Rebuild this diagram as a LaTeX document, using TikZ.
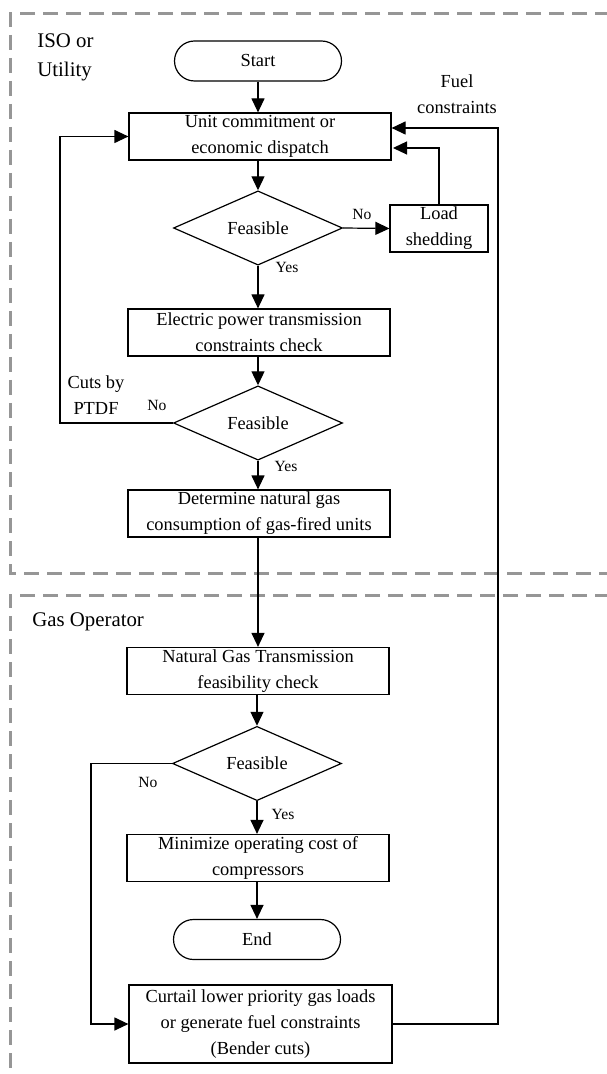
\documentclass[tikz,border=0pt]{standalone}
\usepackage{fontspec}
\setmainfont{Liberation Serif}
\usetikzlibrary{shapes.geometric,arrows.meta}
\newcommand\fs{\fontsize{9.2}{13}\selectfont}
\newcommand\fsm{\fontsize{7.8}{9}\selectfont}
\newcommand\fl{\fontsize{10.4}{14.5}\selectfont}
\definecolor{dashgray}{RGB}{150,150,150}
\tikzset{
  stepbox/.style={draw, line width=0.6pt, rectangle, minimum width=131pt, minimum height=23.5pt, inner sep=0pt, align=center, font=\fs},
  term/.style={draw, line width=0.6pt, rectangle, rounded corners=10pt, minimum width=83.5pt, minimum height=20pt, inner sep=0pt, font=\fs},
  dia/.style={draw, line width=0.6pt, diamond, minimum width=84.5pt, minimum height=28pt, inner sep=0pt, font=\fs},
  arr/.style={line width=0.6pt, -{Triangle[length=7pt,width=6.5pt]}},
  region/.style={draw=dashgray, line width=1.5pt, dash pattern=on 7.5pt off 4pt},
  lbl/.style={font=\fs, align=center, inner sep=0pt},
  yn/.style={font=\fsm, inner sep=0pt},
}
\begin{document}
\begin{tikzpicture}[x=0.5pt,y=-0.5pt]
\useasboundingbox (0,0) rectangle (606,1074);
% regions
\draw[region] (610,14) -- (10,14) -- (10,573) -- (610,573);
\draw[region] (610,595) -- (10,595) -- (10,1080);
\node[font=\fl, align=left, anchor=west, inner sep=0pt] (iso) at (37,57.5) {ISO or\\Utility};
\node[font=\fl, anchor=west, inner sep=0pt] (gasop) at (32,622) {Gas Operator};
% nodes
\node[term] (start) at (258,61) {Start};
\node[stepbox] (uc) at (260,136.5) {Unit commitment or\\economic dispatch};
\node[dia] (d1) at (258,228) {Feasible};
\node[stepbox, minimum width=49pt] (ls) at (439,228.5) {Load\\shedding};
\node[stepbox] (ept) at (259,332.5) {Electric power transmission\\constraints check};
\node[dia] (d2) at (258,423) {Feasible};
\node[stepbox] (det) at (259,513.5) {Determine natural gas\\consumption of gas-fired units};
\node[stepbox] (ngt) at (258,671) {Natural Gas Transmission\\feasibility check};
\node[dia] (d3) at (257,763.5) {Feasible};
\node[stepbox] (mini) at (258,858) {Minimize operating cost of\\compressors};
\node[term] (endn) at (257,939.5) {End};
\node[stepbox, minimum width=131.5pt, minimum height=39pt] (cur) at (260.5,1024) {Curtail lower priority gas loads\\or generate fuel constraints\\(Bender cuts)};
% labels
\node[lbl] (fuel) at (457,94) {Fuel\\constraints};
\node[lbl] (cuts) at (96,395.5) {Cuts by\\PTDF};
\node[yn] (no1) at (362,214) {No};
\node[yn] (yes1) at (287,267) {Yes};
\node[yn] (no2) at (157,405) {No};
\node[yn] (yes2) at (286,466) {Yes};
\node[yn] (no3) at (148,782) {No};
\node[yn] (yes3) at (283,814) {Yes};
% coordinates
\coordinate (lsin) at (393,148);
\coordinate (fuelT) at (498,128);
\coordinate (fuelB) at (498,1024);
\coordinate (cutsL) at (60,423);
\coordinate (gasL) at (91,763.5);
% connectors (vertical)
\draw[arr] (start.south) -- (start.south |- uc.north);
\draw[arr] (start.south |- uc.south) -- (d1.north);
\draw[arr] (d1.east) -- (ls.west);
\draw[arr] (ls.north) |- (lsin);
\draw[arr] (d1.south) -- (d1.south |- ept.north);
\draw[arr] (d1.south |- ept.south) -- (d2.north);
\draw[arr] (d2.west) -- (cutsL) |- (uc.west);
\draw[arr] (d2.south) -- (d2.south |- det.north);
\draw[arr] (d2.south |- det.south) -- (d2.south |- ngt.north);
\draw[arr] (d3.north |- ngt.south) -- (d3.north);
\draw[arr] (d3.south) -- (d3.south |- mini.north);
\draw[arr] (endn.north |- mini.south) -- (endn.north);
\draw[arr] (d3.west) -- (gasL) |- (cur.west);
\draw[arr] (cur.east) -- (fuelB) -- (fuelT) -- (uc.east |- fuelT);
\end{tikzpicture}
\end{document}
